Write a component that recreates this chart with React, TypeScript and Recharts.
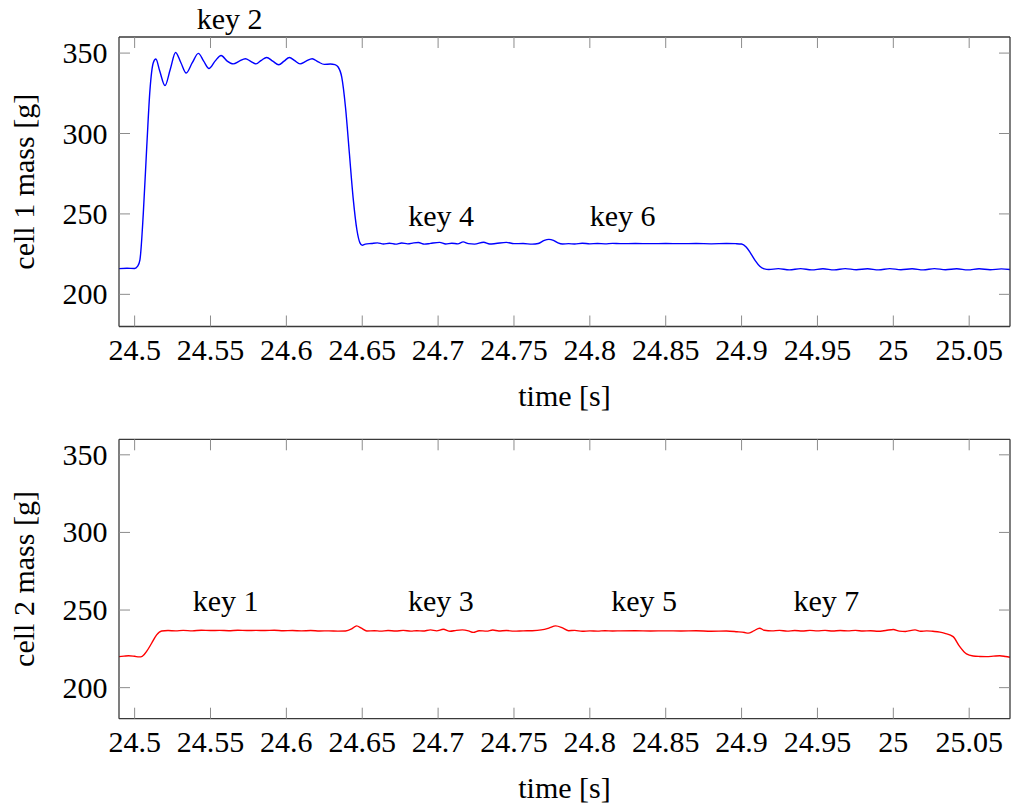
import { LineChart, Line, XAxis, YAxis, ReferenceDot } from "recharts";

const FONT = '"Liberation Serif", "Times New Roman", Times, "DejaVu Serif", "Noto Serif", serif';
const TICK_LEN = 11;
const TICK_COLOR = "#8c8c8c";
const FRAME_COLOR = "#3a3a3a";

// axis ranges and ticks
const timeDomain = [24.4897, 25.0769];
const massDomain = [180, 360];
const timeTicks = [24.5, 24.55, 24.6, 24.65, 24.7, 24.75, 24.8, 24.85, 24.9, 24.95, 25, 25.05];
const massTicks = [200, 250, 300, 350];

// cell 1 (blue)
const cell1Time = [
  24.4897, 24.495, 24.5, 24.502, 24.5035, 24.5057, 24.508, 24.5101, 24.5123, 24.514,
  24.5165, 24.52, 24.5235, 24.527, 24.5305, 24.534, 24.538, 24.542, 24.5455, 24.549,
  24.553, 24.557, 24.561, 24.565, 24.569, 24.573, 24.5765, 24.58, 24.5835, 24.587,
  24.591, 24.595, 24.5985, 24.602, 24.6055, 24.609, 24.613, 24.617, 24.621, 24.625,
  24.629, 24.632, 24.634, 24.6365, 24.639, 24.6415, 24.644, 24.6465, 24.6485, 24.65,
  24.652, 24.656, 24.66, 24.664, 24.668, 24.672, 24.676, 24.68, 24.684, 24.687,
  24.691, 24.695, 24.701, 24.705, 24.709, 24.713, 24.7165, 24.72, 24.724, 24.73,
  24.734, 24.738, 24.745, 24.75, 24.756, 24.762, 24.766, 24.77, 24.773, 24.776,
  24.779, 24.782, 24.786, 24.79, 24.795, 24.8, 24.805, 24.81, 24.815, 24.82,
  24.83, 24.84, 24.85, 24.86, 24.87, 24.88, 24.89, 24.896, 24.9, 24.903,
  24.906, 24.909, 24.912, 24.915, 24.918, 24.9242, 24.9315, 24.9389, 24.9462, 24.9536,
  24.961, 24.9683, 24.9756, 24.983, 24.9903, 24.9977, 25.005, 25.0124, 25.0197, 25.0271,
  25.0344, 25.0418, 25.0491, 25.0565, 25.0638, 25.0712, 25.0769,
];
const cell1Mass = [
  216.0, 216.2, 216.1, 217.5, 221.5, 250, 292, 327, 344, 346.3,
  339, 329.8, 340, 350.4, 344, 337.6, 344, 349.8, 345, 340.4,
  345, 348.5, 345, 343.3, 345, 346.5, 344.9, 343.3, 345.5, 347.3,
  345, 342.7, 345, 347.3, 345.3, 343.3, 345, 346.5, 344.5, 343.0,
  343.2, 342.8, 341.5, 335, 316, 288, 260, 240, 232, 230.5,
  231.2, 231.6, 232.0, 231.3, 231.8, 231.2, 231.9, 231.4, 232.0, 232.2,
  231.2, 231.7, 232.3, 231.3, 231.8, 231.4, 232.6, 231.5, 231.2, 232.4,
  231.3, 231.6, 232.3, 231.5, 231.6, 231.2, 231.6, 233.6, 234.2, 233.6,
  232.0, 231.3, 231.5, 231.3, 231.8, 231.4, 231.6, 231.4, 231.7, 231.5,
  231.6, 231.5, 231.6, 231.5, 231.6, 231.4, 231.6, 231.5, 231.3, 229.5,
  225.5, 221, 217.5, 215.8, 215.4, 216.0, 215.2, 216.0, 215.2, 215.9,
  215.2, 216.0, 215.3, 215.9, 215.2, 216.0, 215.3, 215.9, 215.2, 216.0,
  215.3, 215.9, 215.2, 215.9, 215.3, 215.8, 215.4,
];

// cell 2 (red)
const cell2Time = [
  24.4897, 24.493, 24.496, 24.5, 24.503, 24.505, 24.508, 24.5112, 24.5145, 24.5178,
  24.522, 24.527, 24.532, 24.538, 24.544, 24.55, 24.556, 24.562, 24.568, 24.574,
  24.58, 24.586, 24.592, 24.598, 24.604, 24.61, 24.616, 24.622, 24.628, 24.634,
  24.639, 24.643, 24.6463, 24.6495, 24.653, 24.658, 24.662, 24.667, 24.672, 24.677,
  24.682, 24.686, 24.69, 24.695, 24.699, 24.7034, 24.708, 24.712, 24.716, 24.72,
  24.7232, 24.727, 24.732, 24.736, 24.74, 24.745, 24.75, 24.756, 24.762, 24.768,
  24.773, 24.7775, 24.782, 24.786, 24.79, 24.795, 24.8, 24.805, 24.81, 24.815,
  24.82, 24.83, 24.84, 24.85, 24.86, 24.87, 24.88, 24.89, 24.897, 24.902,
  24.9044, 24.908, 24.9119, 24.915, 24.92, 24.925, 24.93, 24.935, 24.94, 24.945,
  24.95, 24.955, 24.96, 24.965, 24.97, 24.975, 24.98, 24.985, 24.99, 24.995,
  25.0, 25.004, 25.008, 25.0143, 25.018, 25.022, 25.026, 25.0307, 25.034, 25.0394,
  25.0438, 25.0482, 25.0526, 25.057, 25.0613, 25.066, 25.0702, 25.074, 25.0769,
];
const cell2Mass = [
  220.0, 220.3, 220.6, 220.2, 219.8, 220.2, 223.5, 228.6, 234, 236.5,
  236.8, 236.6, 236.9, 236.6, 237.0, 236.8, 236.9, 236.7, 237.0, 236.8,
  236.9, 236.8, 237.0, 236.7, 236.8, 236.6, 236.8, 236.5, 236.6, 236.4,
  236.5, 237.8, 239.8, 238.3, 236.5, 236.7, 236.4, 236.8, 236.5, 236.9,
  236.4, 236.7, 236.5, 237.2, 236.6, 237.6, 236.3, 236.9, 237.2, 236.6,
  235.6, 236.7, 236.4, 237.1, 236.5, 236.8, 236.4, 236.6, 236.7, 237.2,
  238.4, 239.8, 238.5, 236.7, 236.9, 236.3, 236.6, 236.4, 236.7, 236.5,
  236.6, 236.7, 236.5, 236.6, 236.5, 236.7, 236.3, 236.5, 236.0, 235.5,
  235.1, 236.6, 238.3, 237.0, 236.6, 236.9, 236.4, 236.8, 236.5, 236.9,
  236.6, 236.9, 236.5, 236.8, 236.6, 236.9, 236.5, 236.7, 236.3, 236.8,
  237.5, 236.4, 236.2, 237.2, 236.3, 236.6, 236.3, 235.8, 235, 232.9,
  226.4, 221.7, 220.4, 220.1, 220.0, 220.3, 220.6, 220.1, 219.6,
];

// key annotations
const cell1Keys = ["key 2", "key 4", "key 6"];
const cell1KeyTime = [24.5626, 24.702, 24.8216];
const cell1KeyMass = [371.4, 249.1, 249.1];
const cell2Keys = ["key 1", "key 3", "key 5", "key 7"];
const cell2KeyTime = [24.56, 24.7018, 24.8358, 24.9559];
const cell2KeyMass = [256, 256, 256, 256];

const textStyle = { fontFamily: FONT, fontSize: 30, fill: "#000" };

const BottomTick = (props: any) => {
  const { x, y, payload } = props;
  return (
    <g>
      <line x1={x} y1={y} x2={x} y2={y - TICK_LEN} stroke={TICK_COLOR} strokeWidth={1} />
      <text x={x} y={y + 33} textAnchor="middle" {...textStyle} style={{ fontFamily: FONT }}>
        {String(payload.value)}
      </text>
    </g>
  );
};

const TopTick = (props: any) => {
  const { x, y } = props;
  return <line x1={x} y1={y} x2={x} y2={y + TICK_LEN} stroke={TICK_COLOR} strokeWidth={1} />;
};

const LeftTick = (props: any) => {
  const { x, y, payload } = props;
  return (
    <g>
      <line x1={x} y1={y} x2={x + TICK_LEN} y2={y} stroke={TICK_COLOR} strokeWidth={1} />
      <text x={x - 11.5} y={y + 10} textAnchor="end" {...textStyle} style={{ fontFamily: FONT }}>
        {String(payload.value)}
      </text>
    </g>
  );
};

const RightTick = (props: any) => {
  const { x, y } = props;
  return <line x1={x} y1={y} x2={x - TICK_LEN} y2={y} stroke={TICK_COLOR} strokeWidth={1} />;
};

interface PanelProps {
  times: number[];
  masses: number[];
  color: string;
  yLabel: string;
  keys: string[];
  keyTimes: number[];
  keyMasses: number[];
  height: number;
  marginTop: number;
  bottomHeight: number;
}

function MassPanel({ times, masses, color, yLabel, keys, keyTimes, keyMasses, height, marginTop, bottomHeight }: PanelProps) {
  const data = times.map((t, i) => ({ t, m: masses[i] }));
  const axisLine = { stroke: FRAME_COLOR, strokeWidth: 1.3 };

  return (
    <LineChart
      width={1015}
      height={height}
      data={data}
      margin={{ top: marginTop, right: 0, bottom: 0, left: 0 }}
      style={{ fontFamily: FONT }}
    >
      <XAxis
        xAxisId="bottom"
        dataKey="t"
        type="number"
        domain={timeDomain}
        ticks={timeTicks}
        allowDataOverflow
        interval={0}
        height={bottomHeight}
        tickLine={false}
        tickSize={0}
        tickMargin={0}
        axisLine={axisLine}
        tick={BottomTick}
        label={{
          content: (p: any) => {
            const vb = p.viewBox;
            return (
              <text x={vb.x + vb.width / 2} y={vb.y + 79} textAnchor="middle" {...textStyle} style={{ fontFamily: FONT }}>
                time [s]
              </text>
            );
          },
        }}
      />
      <XAxis
        xAxisId="top"
        orientation="top"
        dataKey="t"
        type="number"
        domain={timeDomain}
        ticks={timeTicks}
        allowDataOverflow
        interval={0}
        height={20}
        tickLine={false}
        tickSize={0}
        tickMargin={0}
        axisLine={axisLine}
        tick={TopTick}
      />
      <YAxis
        yAxisId="left"
        type="number"
        domain={massDomain}
        ticks={massTicks}
        allowDataOverflow
        interval={0}
        width={119}
        tickLine={false}
        tickSize={0}
        tickMargin={0}
        axisLine={axisLine}
        tick={LeftTick}
        label={{
          content: (p: any) => {
            const vb = p.viewBox;
            const cx = 33.5;
            const cy = vb.y + vb.height / 2;
            return (
              <text
                x={cx}
                y={cy}
                textAnchor="middle"
                transform={`rotate(-90, ${cx}, ${cy})`}
                {...textStyle}
                style={{ fontFamily: FONT }}
              >
                {yLabel}
              </text>
            );
          },
        }}
      />
      <YAxis
        yAxisId="right"
        orientation="right"
        type="number"
        domain={massDomain}
        ticks={massTicks}
        allowDataOverflow
        interval={0}
        width={5}
        tickLine={false}
        tickSize={0}
        tickMargin={0}
        axisLine={axisLine}
        tick={RightTick}
      />
      <Line
        xAxisId="bottom"
        yAxisId="left"
        type="monotone"
        dataKey="m"
        stroke={color}
        strokeWidth={1.4}
        dot={false}
        activeDot={false}
        isAnimationActive={false}
      />
      {keys.map((k, i) => (
        <ReferenceDot
          key={k}
          xAxisId="bottom"
          yAxisId="left"
          x={keyTimes[i]}
          y={keyMasses[i]}
          r={0}
          fill="none"
          stroke="none"
          ifOverflow="visible"
          label={{ value: k, position: "center", ...textStyle, style: { fontFamily: FONT } }}
        />
      ))}
    </LineChart>
  );
}

export default function App() {
  return (
    <div style={{ position: "absolute", left: 0, top: 0, width: 1015, height: 804, background: "#fff", fontFamily: FONT }}>
      <MassPanel
        times={cell1Time}
        masses={cell1Mass}
        color="#0000ff"
        yLabel="cell 1 mass [g]"
        keys={cell1Keys}
        keyTimes={cell1KeyTime}
        keyMasses={cell1KeyMass}
        height={412}
        marginTop={17}
        bottomHeight={85.5}
      />
      <MassPanel
        times={cell2Time}
        masses={cell2Mass}
        color="#ff0000"
        yLabel="cell 2 mass [g]"
        keys={cell2Keys}
        keyTimes={cell2KeyTime}
        keyMasses={cell2KeyMass}
        height={392}
        marginTop={7.3}
        bottomHeight={85.3}
      />
    </div>
  );
}
